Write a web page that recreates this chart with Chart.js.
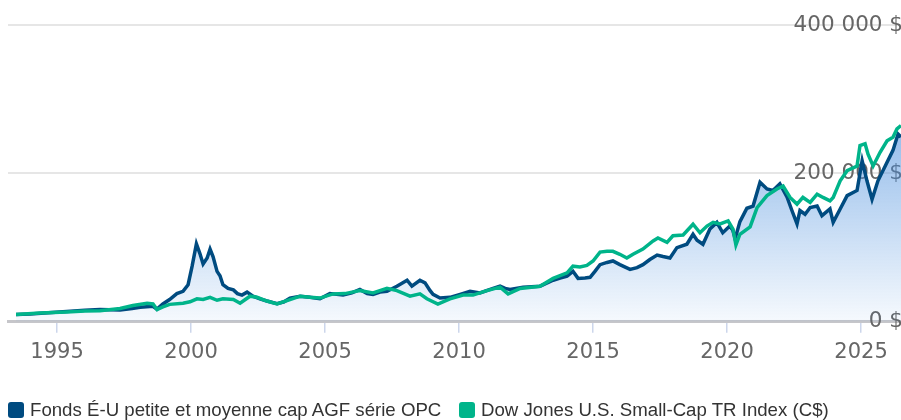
<!DOCTYPE html>
<html>
<head>
<meta charset="utf-8">
<script src="https://cdn.jsdelivr.net/npm/chart.js@4.4.1/dist/chart.umd.min.js"></script>
<style>
html,body{margin:0;padding:0;background:#fff;}
#wrap{position:relative;width:901px;height:420px;overflow:hidden;}
#c{position:absolute;left:0;top:0;}
.lg{position:absolute;top:400px;height:20px;display:flex;align-items:center;font-family:"Liberation Sans",Arial,sans-serif;font-size:18.65px;color:#333333;white-space:nowrap;}
.lg .sw{display:inline-block;width:16px;height:16px;border-radius:3px;margin-right:6px;}
</style>
</head>
<body>
<div id="wrap">
<canvas id="c" width="901" height="420"></canvas>
<div class="lg" id="lg0" style="left:8px;"><span class="sw"></span><span class="tx"></span></div>
<div class="lg" id="lg1" style="left:459px;"><span class="sw"></span><span class="tx"></span></div>
</div>
<script>
const seriesNames = ["Fonds É-U petite et moyenne cap AGF série OPC", "Dow Jones U.S. Small-Cap TR Index (C$)"];
const xTickYears = [1995, 2000, 2005, 2010, 2015, 2020, 2025];
const yTickValues = [0, 200000, 400000];

const fundYears = [1993.47,1994.0,1994.4,1995.36,1996.04,1996.6,1997.35,1997.8,1998.1,1998.58,1998.73,1998.95,1999.2,1999.47,1999.7,1999.89,2000.04,2000.2,2000.33,2000.45,2000.6,2000.71,2000.82,2000.97,2001.08,2001.19,2001.38,2001.58,2001.73,2001.9,2002.09,2002.31,2002.57,2002.83,2003.21,2003.47,2003.69,2004.07,2004.44,2004.81,2005.18,2005.67,2006.0,2006.3,2006.57,2006.79,2007.05,2007.31,2007.68,2008.06,2008.24,2008.54,2008.73,2008.92,2009.03,2009.29,2009.66,2010.04,2010.41,2010.78,2011.27,2011.53,2011.72,2011.9,2012.39,2013.02,2013.51,2013.77,2014.03,2014.25,2014.44,2014.7,2014.89,2015.07,2015.26,2015.52,2015.74,2016.0,2016.38,2016.64,2016.86,2017.12,2017.39,2017.61,2017.87,2018.13,2018.5,2018.73,2018.88,2019.1,2019.36,2019.62,2019.84,2020.1,2020.21,2020.3,2020.48,2020.74,2020.97,2021.23,2021.49,2021.71,2021.97,2022.24,2022.42,2022.61,2022.72,2022.91,2023.1,2023.36,2023.54,2023.84,2023.96,2024.22,2024.48,2024.85,2025.04,2025.22,2025.41,2025.63,2025.97,2026.19,2026.38,2026.49];
const fundValues = [10000,10500,11500,14000,15500,16500,16000,18000,19600,21000,17000,24000,30000,38000,41000,50000,75000,105000,92000,78000,86000,98000,88000,68000,62000,50000,45000,43000,38000,36000,40000,34500,31000,28000,24500,27000,32000,34500,33000,31000,38000,36000,39000,43600,38000,37000,40000,41000,48000,56000,48000,56000,52500,42000,37000,32000,33000,37000,41000,39000,45000,48000,45000,43600,46700,48000,56000,59000,61600,68000,58500,59000,60000,68000,77000,80000,82000,77000,70600,73000,77000,84000,90000,88000,86000,100000,104500,118000,110000,104500,125000,134000,120000,129000,124000,112000,135000,153000,156000,188000,179000,177000,186000,168000,150000,132000,150000,145000,154000,156000,143000,152000,134000,152000,170000,177000,217000,190000,165000,190000,215000,231000,253000,249000];

const indexYears = [1993.47,1994.36,1995.36,1996.04,1996.6,1997.35,1997.83,1998.36,1998.58,1998.73,1998.95,1999.2,1999.7,1999.96,2000.22,2000.45,2000.71,2000.97,2001.19,2001.58,2001.83,2002.2,2002.46,2002.83,2003.21,2003.69,2004.07,2004.44,2004.81,2005.3,2005.74,2006.3,2006.79,2007.31,2007.68,2008.17,2008.54,2008.8,2009.21,2009.66,2010.15,2010.52,2011.04,2011.53,2011.83,2012.28,2013.02,2013.51,2014.03,2014.25,2014.51,2014.77,2015.0,2015.26,2015.52,2015.74,2016.0,2016.26,2016.49,2016.86,2017.24,2017.42,2017.76,2017.98,2018.36,2018.73,2018.99,2019.25,2019.48,2019.74,2020.04,2020.22,2020.33,2020.48,2020.86,2021.12,2021.49,2021.86,2022.09,2022.35,2022.61,2022.83,2023.1,2023.36,2023.58,2023.84,2023.96,2024.22,2024.48,2024.85,2024.96,2025.15,2025.26,2025.45,2025.71,2025.97,2026.19,2026.34,2026.49];
const indexValues = [10000,12000,13300,14500,15000,18000,22000,25000,24000,16500,20000,23500,25000,27000,31000,30000,33000,29000,31000,30000,25000,34500,33000,28000,24000,30000,34500,33000,32000,37600,38000,42000,39000,45000,42000,34500,37600,31000,24000,31000,36000,36000,42000,46700,37600,45000,48000,58500,66000,75000,74000,76000,82000,94000,95000,95000,91000,86000,91000,98000,109000,113000,107000,116000,117000,131500,120000,129000,134000,132000,136000,125000,103500,118000,128000,154000,170000,179000,183000,167600,158600,167600,160800,172000,167600,163000,167600,190000,203700,210000,237600,240000,226000,210000,228500,244000,248800,260000,264600];

const fundColor = '#004b80';
const indexColor = '#00b48a';

function toPoints(xs, ys){ return xs.map((x,i)=>({x:x, y:ys[i]})); }

function fundFill(ctx){
  const chart = ctx.chart; const a = chart.chartArea;
  if(!a) return 'rgba(70,140,220,0.3)';
  const g = chart.ctx.createLinearGradient(0, a.top + 100, 0, a.bottom);
  g.addColorStop(0, 'rgba(70,140,220,0.58)');
  g.addColorStop(1, 'rgba(70,140,220,0.05)');
  return g;
}

function fmtMoney(v){
  return String(v).replace(/\B(?=(\d{3})+(?!\d))/g, ' ') + ' $';
}

// legend (HTML text)
[fundColor, indexColor].forEach((col, i) => {
  const el = document.getElementById('lg' + i);
  el.querySelector('.sw').style.background = col;
  el.querySelector('.tx').textContent = seriesNames[i];
});

new Chart(document.getElementById('c'), {
  type: 'line',
  data: {
    datasets: [
      { label: seriesNames[0], data: toPoints(fundYears, fundValues), borderColor: fundColor, backgroundColor: fundFill, fill: 'origin', borderWidth: 3.5, pointRadius: 0, tension: 0, order: 1 },
      { label: seriesNames[1], data: toPoints(indexYears, indexValues), borderColor: indexColor, backgroundColor: indexColor, fill: false, borderWidth: 3.5, pointRadius: 0, tension: 0, order: 0 }
    ]
  },
  options: {
    responsive: false,
    devicePixelRatio: 1,
    animation: false,
    layout: { padding: { left: 8, right: 0, top: 25, bottom: 48 } },
    plugins: {
      tooltip: { enabled: false },
      legend: { display: false }
    },
    scales: {
      x: {
        type: 'linear',
        min: 1993.17, max: 2026.49,
        afterBuildTicks: (s) => { s.ticks = xTickYears.map(v => ({value: v})); },
        ticks: { color: '#666666', font: { family: '"DejaVu Sans", sans-serif', size: 21 }, padding: 7, maxRotation: 0, autoSkip: false, callback: (v) => String(v) },
        grid: { drawOnChartArea: false, drawTicks: true, tickLength: 11, color: '#ccd6eb', lineWidth: 1.5 },
        border: { display: true, color: '#c6c6ca', width: 3 }
      },
      y: {
        position: 'right',
        min: 0, max: 400000,
        afterBuildTicks: (s) => { s.ticks = yTickValues.map(v => ({value: v})); },
        afterFit: (s) => { s.width = 0; },
        ticks: { mirror: true, padding: 2, color: '#666666', font: { family: '"DejaVu Sans", sans-serif', size: 21.5 }, callback: (v) => fmtMoney(v) },
        grid: { drawTicks: false, color: '#e6e6e6', lineWidth: 2 },
        border: { display: false }
      }
    }
  }
});
</script>
</body>
</html>
